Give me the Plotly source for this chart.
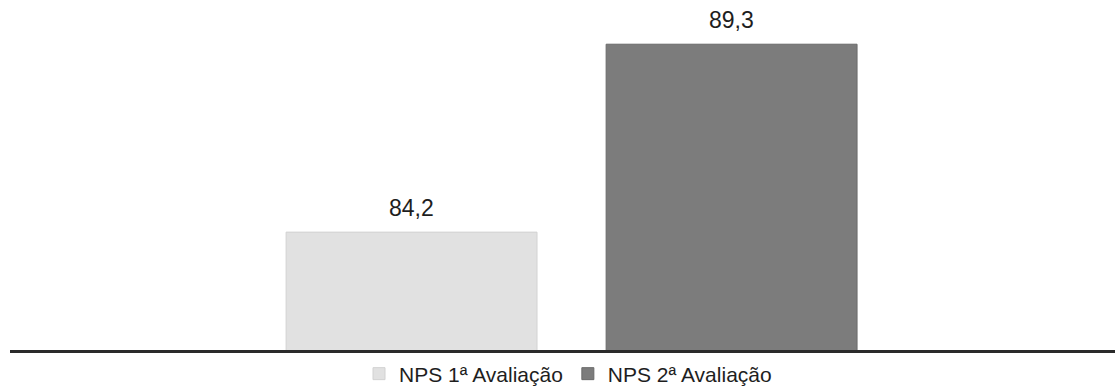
import plotly.graph_objects as go

# NPS scores for each evaluation round
series_names = ["NPS 1ª Avaliação", "NPS 2ª Avaliação"]
positions = [0, 1]
nps_values = [84.2, 89.3]
fill_colors = ["#e1e1e1", "#7c7c7c"]
edge_colors = ["#d2d2d2", "#6a6a6a"]

FONT = "Liberation Sans, Arial"

fig = go.Figure()
for name, pos, val, fc, ec in zip(series_names, positions, nps_values, fill_colors, edge_colors):
    fig.add_trace(go.Bar(
        x=[pos], y=[val], name=name, width=0.784,
        marker=dict(color=fc, line=dict(color=ec, width=1)),
    ))
    fig.add_annotation(
        x=pos, y=val, text=f"{val:.1f}".replace(".", ","),
        showarrow=False, yanchor="bottom", yshift=9,
        font=dict(family=FONT, size=23, color="#1e1e1e"),
    )

fig.update_layout(
    width=1115, height=388,
    margin=dict(l=10, r=0, t=0, b=38, autoexpand=False),
    paper_bgcolor="white", plot_bgcolor="white",
    barmode="overlay",
    showlegend=True,
    legend=dict(
        orientation="h", x=0.505, xanchor="center",
        y=-0.01, yanchor="top", yref="paper",
        bgcolor="rgba(0,0,0,0)",
        font=dict(family=FONT, size=21, color="#1e1e1e"),
        itemwidth=30, traceorder="normal",
    ),
    xaxis=dict(
        range=[-1.2547, 2.198], showticklabels=False, showgrid=False,
        zeroline=False, showline=True, linecolor="#2a2a2a", linewidth=3,
    ),
    yaxis=dict(
        range=[81, 90.5], visible=False, showgrid=False, zeroline=False,
    ),
)

fig.write_html("out.html")
